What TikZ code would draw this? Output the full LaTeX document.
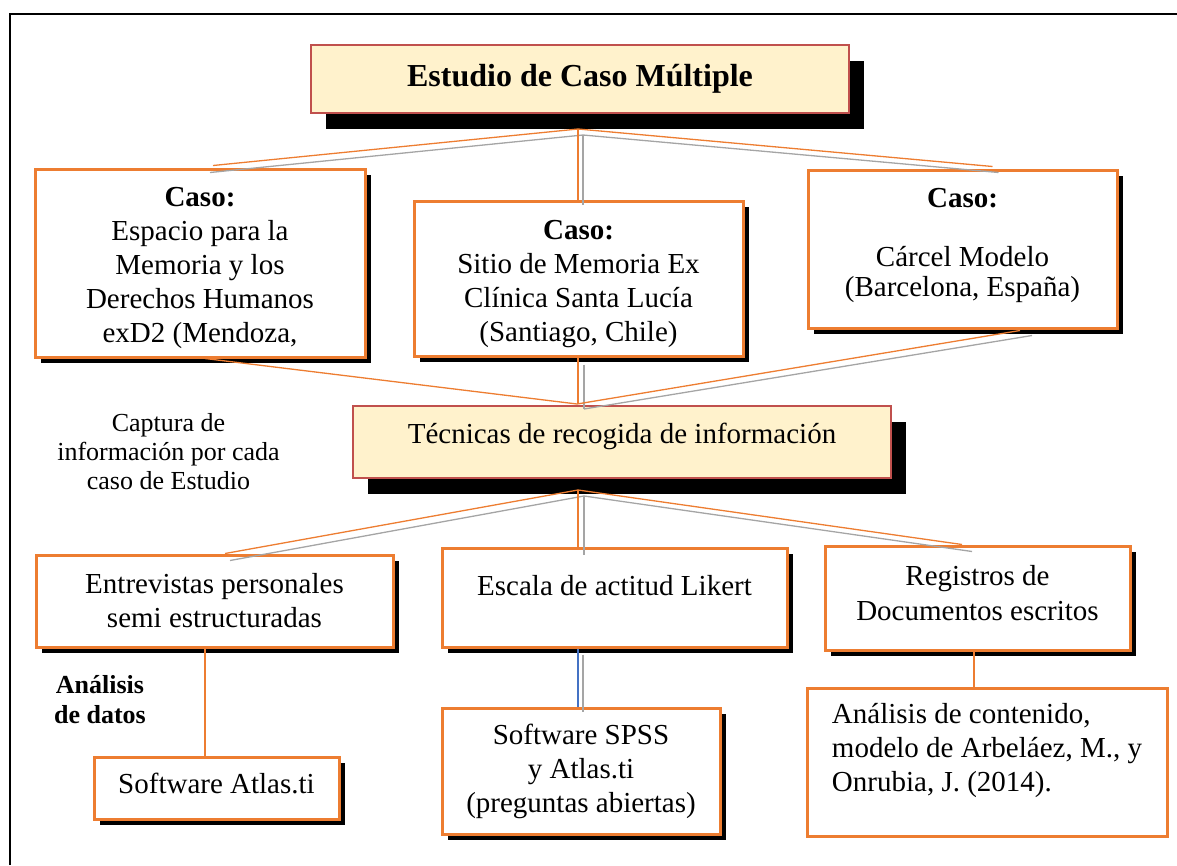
\documentclass[tikz,border=0pt]{standalone}
\usepackage{fontspec}
\setmainfont{Liberation Serif}
\usetikzlibrary{shadows,calc}
\definecolor{orangeC}{HTML}{ED7D31}
\definecolor{redC}{HTML}{C0504D}
\definecolor{yellowC}{HTML}{FFF2CC}
\definecolor{grayC}{HTML}{A5A5A5}
\definecolor{blueC}{HTML}{4472C4}
\newcommand{\dpt}[1]{\rule[-#1pt]{0pt}{#1pt}}
\newcommand{\htt}[1]{\rule{0pt}{#1pt}}
\begin{document}
\begin{tikzpicture}[x=1pt,y=-1pt,
  body/.style={font=\fontsize{29}{34}\selectfont},
  obox/.style={draw=orangeC, line width=3pt, fill=white, align=center, inner sep=0pt,
    drop shadow={shadow xshift=6pt, shadow yshift=-6pt, fill=black, opacity=1}},
  ybox/.style={draw=redC, line width=2pt, fill=yellowC, align=center, inner sep=0pt,
    drop shadow={shadow xshift=15pt, shadow yshift=-16pt, fill=black, opacity=1}},
  plainbox/.style={draw=orangeC, line width=3pt, fill=white, inner sep=0pt},
  oline/.style={draw=orangeC, line width=1.3pt},
  gline/.style={draw=grayC, line width=1.3pt},
  bline/.style={draw=blueC, line width=1.3pt},
  note/.style={align=center, inner sep=0pt}]
\useasboundingbox (0,0) rectangle (1177,865);
% outer frame
\draw[line width=2.5pt] (10,865) -- (10,14) -- (1177,14);

% boxes
\node[ybox, minimum width=538, minimum height=68, font=\fontsize{32}{38}\selectfont\bfseries] (top) at (580,79) {Estudio de Caso Múltiple};
\node[obox, body, minimum width=330, minimum height=188] (c1) at (200,263)
  {\htt{28.4}\textbf{Caso:}\\Espacio para la\\Memoria y los\\Derechos Humanos\\exD2 (Mendoza,};
\node[obox, body, minimum width=329, minimum height=155] (c2) at (578.5,278.5)
  {\htt{31}\textbf{Caso:}\\Sitio de Memoria Ex\\Clínica Santa Lucía\\(Santiago, Chile)};
\node[obox, font=\fontsize{29}{30}\selectfont, minimum width=309, minimum height=158] (c3) at (962.5,249)
  {\textbf{Caso:}\\[29pt]Cárcel Modelo\\(Barcelona, España)\dpt{12.6}};
\node[ybox, body, minimum width=538, minimum height=72] (tec) at (622,442)
  {Técnicas de recogida de información\dpt{17.8}};
\node[obox, body, minimum width=357, minimum height=92] (ent) at (214.5,601)
  {Entrevistas personales\\semi estructuradas};
\node[obox, body, minimum width=345, minimum height=99] (esc) at (614.5,597.5)
  {Escala de actitud Likert\dpt{24.8}};
\node[obox, font=\fontsize{29}{35}\selectfont, minimum width=305, minimum height=104] (reg) at (977.5,598)
  {Registros de\\Documentos escritos\dpt{10.8}};
\node[obox, body, minimum width=245, minimum height=62] (atl) at (216.5,788)
  {Software Atlas.ti\dpt{10}};
\node[obox, body, minimum width=278, minimum height=126] (spss) at (581,771)
  {Software SPSS\\y Atlas.ti\\(preguntas abiertas)};
\node[plainbox, body, align=left, minimum width=360, minimum height=148] (ana) at (987,762)
  {Análisis de contenido,\\modelo de Arbeláez, M., y\\Onrubia, J. (2014).\dpt{30}};

% notes
\node[note, font=\fontsize{26}{29}\selectfont] (cap) at (168.5,452) {Captura de\\información por cada\\caso de Estudio};
\node[note, font=\fontsize{26}{30}\selectfont\bfseries] (adat) at (100,700) {Análisis\\de datos};

% top fan
\draw[oline] ($(top.south)+(-2,15)$) -- ($(c1.north)+(13,-2)$);
\draw[gline] ($(top.south)+(3,21)$) -- ($(c1.north)+(10,5)$);
\draw[oline] ($(top.south)+(-2,15)$) -- ($(c2.north)+(-0.5,0)$);
\draw[gline] ($(top.south)+(3,21)$) -- ($(c2.north)+(4.5,5)$);
\draw[oline] ($(top.south)+(-2,15)$) -- ($(c3.north)+(30,-2)$);
\draw[gline] ($(top.south)+(3,21)$) -- ($(c3.north)+(36,4)$);

% middle fan
\draw[oline] ($(c1.south)+(5,0)$) -- ($(tec.north)+(-45,-1)$);
\draw[oline] ($(c2.south)+(-0.5,0)$) -- ($(tec.north)+(-44,-1)$);
\draw[gline] ($(c2.south)+(5.5,7)$) -- ($(tec.north)+(-38,4)$);
\draw[oline] ($(c3.south)+(57.5,1)$) -- ($(tec.north)+(-45,-1)$);
\draw[gline] ($(c3.south)+(69.5,6)$) -- ($(tec.north)+(-38,4)$);

% bottom fan
\draw[oline] ($(tec.south)+(-44,11)$) -- ($(ent.north)+(10.5,0)$);
\draw[gline] ($(tec.south)+(-38,17)$) -- ($(ent.north)+(15.5,7)$);
\draw[oline] ($(tec.south)+(-44,11)$) -- ($(esc.north)+(-36.5,0)$);
\draw[gline] ($(tec.south)+(-38,17)$) -- ($(esc.north)+(-30.5,8)$);
\draw[oline] ($(tec.south)+(-44,11)$) -- ($(reg.north)+(-15.5,0)$);
\draw[gline] ($(tec.south)+(-38,17)$) -- ($(reg.north)+(-5.5,7)$);

% lower links
\draw[oline] ($(ent.south)+(-9.5,0)$) -- ($(atl.north)+(-11.5,0)$);
\draw[bline] ($(esc.south)+(-36.5,0)$) -- ($(spss.north)+(-3,0)$);
\draw[gline] ($(esc.south)+(-31.5,6)$) -- ($(spss.north)+(2,5)$);
\draw[oline] ($(reg.south)+(-3.5,0)$) -- ($(ana.north)+(-13,0)$);
\end{tikzpicture}
\end{document}
